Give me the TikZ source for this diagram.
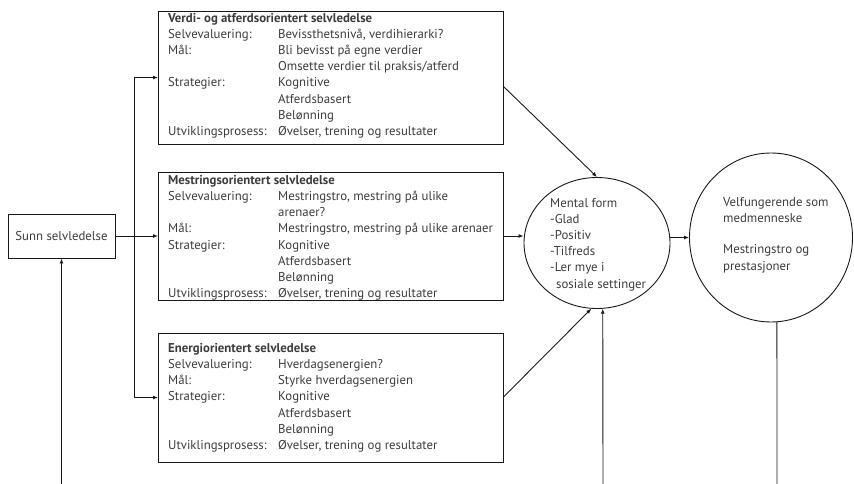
\documentclass[tikz,border=0pt]{standalone}
\usepackage{fontspec}
\setmainfont{PT Sans}
\usetikzlibrary{arrows.meta,shapes.geometric,calc}
\definecolor{txt}{RGB}{60,60,60}
\definecolor{ln}{RGB}{25,25,25}
\begin{document}
\begin{tikzpicture}[x=1pt,y=-1pt,
  every node/.style={text=txt,font=\fontsize{12.8}{16.1}\selectfont},
  box/.style={draw=ln,line width=0.9pt,rectangle,anchor=north west,inner sep=0pt,outer sep=0pt,minimum width=345pt},
  body/.style={anchor=north west,inner sep=0pt,align=left},
  arr/.style={draw=ln,line width=0.9pt,-{Latex[length=5pt,width=4pt]}},
  plain/.style={draw=ln,line width=0.9pt}
]
\useasboundingbox (0,0) rectangle (854,484);
\newcommand{\lab}[1]{\makebox[110pt][l]{#1}}
\newcommand{\ind}{\hspace*{110pt}}

% boxes
\node[box,minimum height=133pt] (b1) at (158,11) {};
\node[box,minimum height=128pt] (b2) at (158,172) {};
\node[box,minimum height=129pt] (b3) at (158,333) {};

\node[body] (t1) at (168,13.3) {\textbf{Verdi- og atferdsorientert selvledelse}\\
\lab{Selvevaluering:}Bevissthetsnivå, verdihierarki?\\
\lab{Mål:}Bli bevisst på egne verdier\\
\ind Omsette verdier til praksis/atferd\\
\lab{Strategier:}Kognitive\\
\ind Atferdsbasert\\
\ind Belønning\\
\lab{Utviklingsprosess:}Øvelser, trening og resultater};

\node[body] (t2) at (168,175.3) {\textbf{Mestringsorientert selvledelse}\\
\lab{Selvevaluering:}Mestringstro, mestring på ulike\\
\ind arenaer?\\
\lab{Mål:}Mestringstro, mestring på ulike arenaer\\
\lab{Strategier:}Kognitive\\
\ind Atferdsbasert\\
\ind Belønning\\
\lab{Utviklingsprosess:}Øvelser, trening og resultater};

\node[body] (t3) at (168,343.3) {\textbf{Energiorientert selvledelse}\\
\lab{Selvevaluering:}Hverdagsenergien?\\
\lab{Mål:}Styrke hverdagsenergien\\
\lab{Strategier:}Kognitive\\
\ind Atferdsbasert\\
\ind Belønning\\
\lab{Utviklingsprosess:}Øvelser, trening og resultater};

% left box
\node[draw=ln,line width=0.9pt,rectangle,inner sep=0pt,minimum width=107pt,minimum height=44pt] (s) at (61.5,236) {Sunn selvledelse};

% mental form ellipse
\node[draw=ln,line width=0.9pt,ellipse,inner sep=0pt,minimum width=146pt,minimum height=131pt] (me) at (597,243) {};
\node[body] (mt) at (550,198.3) {Mental form\\-Glad\\-Positiv\\-Tilfreds\\-Ler mye i\\\hspace*{6pt}sosiale settinger};

% big circle
\node[draw=ln,line width=0.9pt,ellipse,inner sep=0pt,minimum width=163pt,minimum height=169pt] (c2) at (771,237.5) {};
\node[body] (ct) at (723,196.8) {Velfungerende som\\medmenneske\\[15.7pt]Mestringstro og\\prestasjoner};

% coordinates
\coordinate (j) at (134,236);
\coordinate (bs) at (61.5,484);
\coordinate (bm) at (603,484);
\coordinate (bc) at (777,484);

% connectors
\draw[arr] (s.east) -- (b2.west);
\draw[arr] (j) |- (b1.west);
\draw[arr] (j) |- (b3.west);
\draw[arr] (bs) -- (s.south);
\draw[arr] ([yshift=-8.5pt]b1.east) -- (me.north);
\draw[arr] (b2.east) -- (b2.east -| me.west);
\draw[arr] (b3.east) -- (me.-95);
\draw[arr] (bm) -- (me.-85);
\draw[arr] (me.east |- c2.west) -- (c2.west);
\draw[plain] (bc) -- (c2.-86);
\end{tikzpicture}
\end{document}
